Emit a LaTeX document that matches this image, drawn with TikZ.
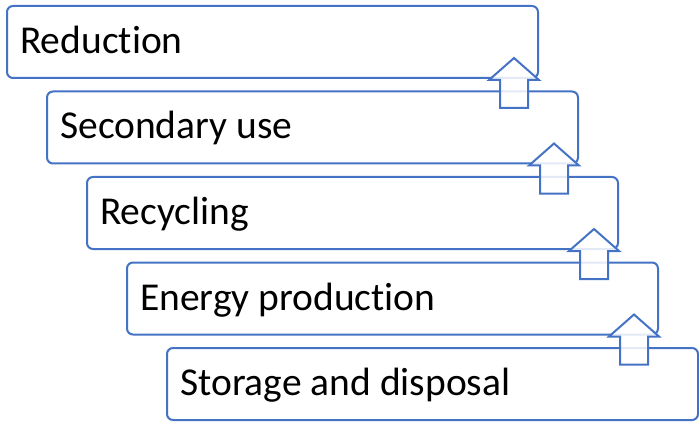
\documentclass[tikz,border=0pt]{standalone}
\usepackage{fontspec}
\setmainfont[Ligatures=NoCommon]{Carlito}
\usetikzlibrary{calc}
\definecolor{boxblue}{HTML}{4472C4}
\tikzset{
  stagebox/.style={draw=boxblue, line width=2pt, rounded corners=6pt, fill=white,
    minimum width=531pt, minimum height=72pt, anchor=north west, inner sep=0pt},
  stagetext/.style={anchor=base west, inner sep=0pt, font=\fontsize{39.5}{42}\selectfont, text=black},
  arrowshape/.style={draw=boxblue, line width=2pt, fill=white, fill opacity=0.85, line join=miter},
  uparr/.pic={\path[arrowshape] (-14,29)--(-14,1)--(-25,1)--(0,-21)--(25,1)--(14,1)--(14,29)--cycle;}
}
\begin{document}
\begin{tikzpicture}[x=1pt,y=-1pt]
\useasboundingbox (0,0) rectangle (699,425);
\node[stagebox] (b1) at (6,5) {};
\node[stagebox] (b2) at (46,90.5) {};
\node[stagebox] (b3) at (86,176) {};
\node[stagebox] (b4) at (126,261.5) {};
\node[stagebox] (b5) at (166,347) {};
\node[stagetext] (t1) at (20,53.5) {Reduction};
\node[stagetext] (t2) at (60,139) {Secondary use};
\node[stagetext] (t3) at (100,224.5) {Recycling};
\node[stagetext] (t4) at (140,310) {Energy production};
\node[stagetext] (t5) at (180,395.5) {Storage and disposal};
\pic at ($(b1.south east)+(-25,0)$) {uparr};
\pic at ($(b2.south east)+(-25,0)$) {uparr};
\pic at ($(b3.south east)+(-25,0)$) {uparr};
\pic at ($(b4.south east)+(-25,0)$) {uparr};
\end{tikzpicture}
\end{document}
